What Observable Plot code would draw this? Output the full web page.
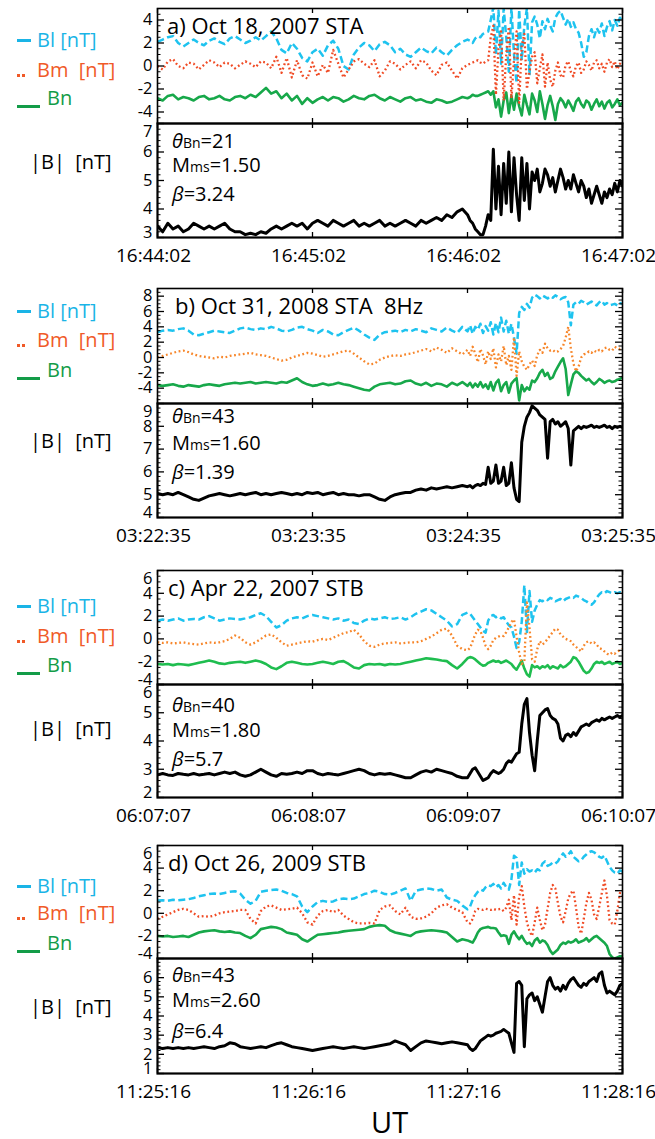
<!DOCTYPE html>
<html>
<head>
<meta charset="utf-8">
<script src="https://cdn.jsdelivr.net/npm/d3@7"></script>
<script src="https://cdn.jsdelivr.net/npm/@observablehq/plot@0.6"></script>
<style>
  html, body { margin: 0; padding: 0; background: #fff; }
  #page { position: relative; width: 655px; height: 1139px; overflow: hidden; background: #fff;
          font-family: "Open Sans", sans-serif; color: #000; }
  .txt { position: absolute; white-space: pre; line-height: 1; transform: translateY(-50%); }
  .bar { position: absolute; }
</style>
</head>
<body>
<div id="page"></div>
<script>
// ---------------------------------------------------------------------------
// Shock crossings: magnetic field in LMN coordinates (Bl, Bm, Bn) and |B|,
// 3-minute windows. Time axis in seconds from the start of each window.
// Samples every 2 s for the first 120 s, then every 1 s.
// ---------------------------------------------------------------------------
const timeGrid = d3.range(0, 120, 2).concat(d3.range(120, 181));

const eventTitles = ["a) Oct 18, 2007 STA", "b) Oct 31, 2008 STA  8Hz", "c) Apr 22, 2007 STB", "d) Oct 26, 2009 STB"];
const xTickSeconds = [0, 60, 120, 180];
const xTickLabels = [
  ["16:44:02", "16:45:02", "16:46:02", "16:47:02"],
  ["03:22:35", "03:23:35", "03:24:35", "03:25:35"],
  ["06:07:07", "06:08:07", "06:09:07", "06:10:07"],
  ["11:25:16", "11:26:16", "11:27:16", "11:28:16"]
];
const thetaBn = ["21", "43", "40", "43"];
const machMs = ["1.50", "1.60", "1.80", "2.60"];
const betaValues = ["3.24", "1.39", "5.7", "6.4"];

const componentDomains = [[-5, 5], [-6, 9], [-4, 6], [-4, 6]];
const componentTicks = [[-4, -2, 0, 2, 4], [-4, -2, 0, 2, 4, 6, 8], [-4, -2, 0, 2, 4, 6], [-4, -2, 0, 2, 4, 6]];
const magnitudeDomains = [[3, 7], [4, 9], [2, 6], [1, 7]];
const magnitudeTicks = [[3, 4, 5, 6, 7], [4, 5, 6, 7, 8, 9], [2, 3, 4, 5, 6], [1, 2, 3, 4, 5, 6]];

// ---- a) Oct 18, 2007 STA ----
const blA = [
  2.1, 2.3, 2.5, 2.6, 2.0, 1.7, 2.0, 2.3, 2.0, 1.8,
  2.2, 2.4, 2.1, 1.9, 2.4, 2.6, 2.3, 2.0, 2.2, 2.5,
  2.2, 2.6, 3.0, 2.4, 1.4, 1.1, 2.0, 1.5, 0.7, 0.4,
  1.2, 1.5, 0.9, 1.8, 2.2, 1.5, 0.0, -0.3, 1.0, 1.6,
  2.0, 1.8, 1.3, 1.9, 2.1, 1.8, 1.2, 1.5, 1.0, 0.8,
  1.2, 1.6, 1.3, 1.1, 1.6, 1.2, 0.9, 1.4, 1.8, 2.1,
  2.3, 2.2, 2.0, 2.4, 2.6, 2.5, 2.8, 2.9, 3.0, 4.0,
  5.1, 1.0, 4.8, 0.2, 5.0, 2.5, -0.5, 5.1, 1.0, -1.5,
  4.9, 0.5, 3.5, 5.0, -0.8, 3.8, 4.3, 3.6, 2.4, 3.9,
  3.2, 4.1, 3.5, 3.0, 4.2, 4.6, 4.8, 4.2, 3.6, 4.1,
  3.4, 3.8, 3.2, 2.9, 2.0, 0.8, 1.2, 2.6, 3.2, 2.5,
  3.3, 2.9, 3.7, 2.6, 3.4, 3.9, 3.1, 4.0, 3.5, 4.2,
  3.8
];
const bmA = [
  0.0, -0.3, 0.4, 0.6, 0.0, -0.2, 0.3, 0.2, -0.3, 0.1,
  0.5, 0.3, -0.1, 0.3, 0.2, -0.2, 0.1, 0.4, 0.2, -0.1,
  0.4, 0.3, -0.2, 0.8, -0.6, 0.7, -1.0, 0.5, -0.8, -1.1,
  0.3, -0.9, 0.1, -0.6, 1.4, 0.2, -1.0, -0.3, 0.4, 0.6,
  0.2, -0.1, 0.5, -0.9, -0.4, 0.4, 0.2, -0.3, 0.1, 0.4,
  -0.2, 0.5, 0.3, -0.4, -0.8, 0.1, 0.3, -0.4, -1.1, -0.2,
  0.1, 0.2, 0.3, 0.4, 0.5, 0.3, 0.2, 0.4, 0.5, 2.5,
  3.5, -2.5, 1.5, 3.0, -3.0, 1.0, 3.4, -2.8, 0.5, 3.0,
  -3.2, 1.8, 2.8, -2.0, -0.5, 0.8, 1.2, -1.5, -0.2, 1.0,
  -1.8, 0.3, -1.2, -1.8, -0.4, 0.3, -0.8, -1.0, 0.1, 0.4,
  -0.5, -0.9, 0.0, 0.3, -0.6, -0.3, 0.4, 0.1, -0.4, 0.3,
  0.5, -0.2, 0.2, -0.5, 0.3, 0.6, -0.1, 0.4, -0.3, 0.2,
  0.0
];
const bnA = [
  -2.8, -3.0, -2.6, -2.5, -2.9, -2.7, -2.8, -3.0, -2.7, -2.6,
  -2.9, -2.8, -2.6, -2.9, -3.0, -2.7, -2.6, -2.8, -2.5, -2.7,
  -2.3, -1.9, -2.4, -2.2, -2.8, -2.4, -3.0, -2.6, -3.3, -2.8,
  -3.2, -2.9, -2.7, -3.0, -2.7, -2.8, -3.1, -2.9, -2.6, -2.8,
  -2.9, -2.6, -2.5, -2.8, -3.0, -2.7, -2.9, -3.1, -2.8, -2.7,
  -3.0, -2.9, -3.1, -3.2, -2.9, -3.0, -3.2, -3.1, -2.9, -2.7,
  -2.8, -2.7, -2.5, -2.6, -2.6, -2.5, -2.4, -2.3, -2.2, -2.5,
  -2.2, -3.6, -2.9, -4.4, -3.0, -2.3, -4.1, -2.6, -3.8, -2.4,
  -3.5, -4.3, -2.5, -3.4, -4.2, -2.4, -3.0, -4.0, -2.2, -3.3,
  -4.6, -3.4, -2.6, -3.5, -4.7, -3.3, -2.8, -3.1, -3.6, -3.0,
  -3.4, -3.9, -3.1, -2.8, -3.3, -3.6, -3.0, -3.2, -3.8, -3.3,
  -2.9, -3.5, -3.1, -3.7, -3.2, -3.0, -3.6, -3.3, -2.9, -3.4,
  -3.2
];
const bA = [
  3.4, 3.2, 3.5, 3.3, 3.4, 3.2, 3.3, 3.5, 3.4, 3.3,
  3.4, 3.3, 3.4, 3.5, 3.3, 3.2, 3.2, 3.1, 3.15, 3.1,
  3.2, 3.15, 3.3, 3.4, 3.3, 3.4, 3.5, 3.4, 3.5, 3.3,
  3.5, 3.6, 3.5, 3.4, 3.6, 3.5, 3.4, 3.5, 3.6, 3.4,
  3.5, 3.4, 3.5, 3.6, 3.4, 3.5, 3.4, 3.5, 3.6, 3.5,
  3.4, 3.6, 3.5, 3.6, 3.7, 3.6, 3.8, 3.7, 3.9, 4.0,
  3.8, 3.6, 3.5, 3.3, 3.2, 3.1, 3.1, 3.4, 3.8, 3.6,
  6.1, 4.0, 5.5, 3.8, 5.6, 4.2, 6.0, 3.9, 5.8, 4.5,
  3.6, 5.8, 4.3, 5.6, 4.0, 5.3, 5.0, 5.4, 4.6, 4.9,
  5.4, 5.2, 4.8, 5.1, 4.6, 5.0, 5.4, 5.1, 4.7, 5.0,
  4.7, 5.2, 4.9, 4.6, 5.0, 4.8, 4.4, 4.7, 4.2, 4.5,
  4.8, 4.5, 4.2, 4.6, 4.4, 4.7, 4.5, 4.9, 4.6, 5.0,
  4.8
];

// ---- b) Oct 31, 2008 STA 8Hz ----
const blB = [
  3.3, 3.5, 3.6, 3.5, 3.7, 3.8, 3.5, 3.0, 2.9, 3.1,
  3.3, 3.5, 3.4, 3.3, 3.2, 3.5, 3.8, 3.9, 3.7, 3.6,
  3.8, 3.7, 4.0, 3.8, 3.5, 3.4, 3.6, 3.9, 4.0, 3.7,
  3.5, 3.2, 3.6, 3.4, 3.0, 2.9, 3.3, 3.6, 3.9, 3.5,
  3.0, 2.6, 2.3, 3.0, 3.3, 3.4, 3.5, 3.3, 3.6, 3.4,
  3.7, 3.5, 3.3, 3.8, 3.6, 3.4, 3.9, 3.5, 3.2, 4.0,
  3.4, 4.2, 3.1, 4.0, 3.6, 4.4, 3.2, 4.1, 3.5, 4.6,
  3.0, 4.5, 3.3, 5.2, 3.4, 4.8, 3.1, 4.4, 2.6, 0.5,
  5.8, 6.6, 6.2, 7.0, 6.5, 7.8, 8.2, 8.0, 7.7, 8.1,
  7.9, 7.7, 8.0, 7.8, 8.1, 7.9, 7.6, 7.8, 7.9, 7.2,
  4.2, 6.9, 7.2, 7.0, 7.4, 7.2, 6.9, 7.1, 7.3, 7.0,
  6.8, 7.2, 7.4, 6.9, 7.1, 6.8, 6.9, 7.0, 6.8, 7.1,
  7.0
];
const bmB = [
  0.0, 0.2, 0.4, 0.6, 0.8, 0.9, 0.7, 0.4, 0.2, 0.1,
  0.0, -0.1, 0.1, 0.0, 0.2, 0.3, 0.4, 0.5, 0.6, 0.4,
  0.3, 0.2, 0.0, -0.2, -0.4, -0.3, 0.0, 0.2, 0.4, 0.6,
  0.5, 0.3, 0.1, 0.2, 0.4, 0.6, 0.8, 0.9, 0.5, 0.0,
  -0.5, -0.9, -0.8, -0.3, 0.0, 0.2, 0.3, 0.2, 0.4, 0.5,
  0.7, 0.9, 1.1, 0.8, 1.3, 1.0, 0.6, 1.2, 0.8, 0.4,
  1.0, 0.2, 1.4, 0.5, -0.6, 1.1, 0.3, -0.9, 0.8, -0.2,
  1.2, -1.3, 0.4, -0.5, 1.5, -1.0, 0.2, -1.6, 2.6, -2.4,
  0.8, -0.5, -1.2, -1.6, -0.9, -0.4, -1.1, 0.3, 1.0, 0.6,
  1.8, 1.2, 0.9, 1.0, 0.7, 0.8, 1.1, 1.5, 2.6, 4.0,
  1.2, -0.8, -1.8, -1.2, 0.0, 0.4, 0.5, 0.8, 0.6, 0.9,
  0.7, 1.0, 0.8, 1.2, 1.3, 1.0, 0.9, 1.4, 1.2, 1.1,
  1.3
];
const bnB = [
  -3.6, -3.7, -3.6, -3.5, -3.7, -3.8, -3.6, -3.7, -3.8, -3.6,
  -3.5, -3.6, -3.7, -3.5, -3.4, -3.3, -3.4, -3.3, -3.2, -3.4,
  -3.3, -3.2, -3.3, -3.4, -3.2, -3.3, -3.0, -2.7, -3.2, -3.5,
  -3.7, -3.6, -3.4, -3.6, -3.5, -3.3, -3.5, -3.6, -3.8, -4.0,
  -4.2, -4.3, -3.8, -3.5, -3.4, -3.3, -3.5, -3.4, -3.1, -3.0,
  -3.4, -3.6, -3.3, -3.7, -3.4, -3.5, -3.8, -3.3, -3.6, -3.2,
  -3.7, -3.3, -3.9, -3.4, -3.8, -3.2, -3.9, -3.5, -4.1, -3.2,
  -4.3, -3.3, -2.9, -4.4, -3.6, -3.2, -4.6, -3.4, -3.0, -2.7,
  -5.6, -3.6, -4.4, -3.9, -4.2, -3.0, -3.2, -2.7, -2.0, -1.6,
  -2.4, -2.0, -2.8, -2.6, -1.8, -1.2, -0.6, -0.1, -1.5, -4.9,
  -3.5, -2.2, -1.8, -2.0, -2.4, -2.7, -3.0, -2.8, -3.2, -3.5,
  -3.2, -2.8, -3.0, -3.3, -3.1, -3.0, -3.2, -3.1, -2.9, -2.8,
  -2.6
];
const bB = [
  5.05, 5.0, 5.05, 5.0, 5.1, 5.0, 4.9, 4.8, 4.75, 4.85,
  4.95, 5.0, 5.05, 5.0, 4.95, 5.0, 5.05, 5.0, 5.05, 5.1,
  5.0, 5.05, 5.0, 5.05, 5.1, 5.05, 5.0, 5.05, 5.0, 5.1,
  5.05, 5.1, 5.0, 5.05, 5.1, 5.0, 5.05, 5.0, 5.0, 4.95,
  5.0, 5.0, 4.9, 4.8, 4.75, 4.9, 5.0, 5.05, 5.1, 5.1,
  5.2, 5.25, 5.2, 5.3, 5.25, 5.3, 5.35, 5.3, 5.35, 5.4,
  5.35, 5.4, 5.3, 5.4, 5.45, 5.4, 5.5, 5.45, 6.2, 5.5,
  5.6, 6.3, 5.5, 5.6, 6.2, 5.4, 5.5, 6.4, 5.3, 4.8,
  4.7, 7.3, 8.0, 8.4, 8.6, 8.9, 8.8, 8.7, 8.5, 8.4,
  8.3, 6.6, 8.2, 8.3, 8.1, 8.2, 8.0, 8.1, 8.2, 7.9,
  6.3, 7.8, 7.9, 8.0, 7.9, 8.0, 7.95, 8.0, 8.05, 7.95,
  8.0, 7.95, 8.0, 8.05, 7.95, 8.0, 7.9, 8.0, 7.95, 8.0,
  7.95
];

// ---- c) Apr 22, 2007 STB ----
const blC = [
  1.6, 1.7, 1.6, 1.7, 1.8, 1.6, 1.7, 1.75, 1.7, 1.9,
  2.0, 1.8, 1.6, 1.7, 1.8, 1.75, 1.7, 1.8, 1.9, 2.1,
  2.25, 2.0, 1.5, 1.0, 1.2, 1.6, 1.8, 1.9, 1.8, 2.0,
  2.1, 2.0, 1.9, 1.8, 1.7, 1.8, 1.6, 1.7, 1.4, 1.3,
  1.6, 1.8, 1.7, 1.8, 1.9, 1.75, 1.8, 1.9, 1.7, 1.9,
  2.2, 2.4, 2.6, 2.5, 2.2, 1.9, 1.6, 1.1, 1.3, 2.1,
  2.3, 2.2, 1.9, 1.6, 1.3, 1.0, 0.7, 0.55, 1.6, 2.0,
  2.1, 1.9, 2.0, 1.8, 1.9, 1.5, 1.2, 1.0, 0.2, -0.8,
  -0.3, 1.5, 4.7, 0.6, 4.2, 1.5, 2.5, 3.0, 3.4, 3.3,
  3.5, 3.4, 3.6, 3.5, 3.3, 3.4, 3.5, 3.3, 3.5, 3.6,
  3.7, 3.6, 3.8, 3.7, 3.6, 3.4, 3.3, 3.1, 3.0, 3.2,
  3.6, 3.9, 4.1, 4.0, 4.2, 4.1, 4.0, 4.1, 4.0, 4.1,
  4.0
];
const bmC = [
  -0.3, -0.35, -0.3, -0.4, -0.35, -0.3, -0.4, -0.45, -0.5, -0.4,
  -0.3, -0.35, -0.3, -0.2, 0.0, 0.3, 0.1, -0.3, -0.5, -0.3,
  0.0, 0.3, 0.4, 0.1, -0.3, -0.6, -0.5, -0.4, -0.3, -0.2,
  -0.25, -0.1, 0.0, -0.1, 0.1, 0.3, 0.5, 0.6, 0.8, 0.4,
  -0.2, -0.6, -0.7, -0.5, -0.4, -0.35, -0.3, -0.4, -0.35, -0.3,
  -0.3, -0.2, 0.0, 0.2, 0.5, 0.8, 0.9, 0.3, -0.6, -0.9,
  -1.0, -0.8, -0.2, 0.4, 0.8, 0.7, 0.1, -0.6, -0.9, -0.6,
  -0.1, 0.1, 0.2, 0.3, 0.25, 0.6, 1.0, 1.5, 1.7, 0.2,
  -1.2, -2.2, -2.0, 3.2, 1.0, -1.8, -2.0, -0.9, -0.2, -0.5,
  -0.3, 0.0, 0.3, 0.6, 0.9, 0.8, 0.4, 0.2, 0.0, -0.1,
  -0.2, -0.5, -0.7, -0.9, -1.1, -0.6, -0.3, -0.2, -0.4, -0.3,
  -0.5, -0.8, -0.9, -1.1, -1.3, -1.4, -1.2, -1.3, -1.1, -1.0,
  -0.9
];
const bnC = [
  -2.2, -2.25, -2.2, -2.3, -2.2, -2.25, -2.3, -2.2, -2.1, -2.0,
  -1.9, -2.0, -2.15, -2.2, -2.1, -2.05, -2.0, -2.1, -2.0, -1.9,
  -2.0, -2.2, -2.5, -2.65, -2.4, -2.1, -2.0, -2.1, -2.2, -2.25,
  -2.2, -2.1, -2.0, -2.1, -2.2, -2.0, -1.95, -2.2, -2.5, -2.6,
  -2.3, -2.2, -2.25, -2.2, -2.3, -2.2, -2.25, -2.2, -2.1, -2.0,
  -1.9, -1.8, -1.7, -1.75, -1.8, -1.9, -1.95, -2.3, -2.6, -2.2,
  -1.7, -1.6, -1.65, -1.8, -2.0, -2.2, -2.35, -2.3, -2.1, -2.0,
  -1.9, -2.0, -1.95, -2.1, -2.0, -1.9, -2.05, -2.2, -2.5, -2.7,
  -2.3, -1.9, -2.6, -3.1, -3.3, -2.3, -2.5, -2.4, -2.6, -2.4,
  -2.5, -2.3, -2.6, -2.4, -2.5, -2.6, -2.3, -2.5, -2.4, -2.2,
  -2.0, -1.6, -1.7, -2.0, -2.4, -2.8, -3.0, -2.9, -2.6, -2.2,
  -2.0, -2.1, -2.0, -2.2, -2.1, -2.0, -2.2, -2.1, -2.0, -2.2,
  -2.1
];
const bC = [
  2.8, 2.85, 2.8, 2.78, 2.85, 2.82, 2.8, 2.85, 2.8, 2.82,
  2.85, 2.8, 2.85, 2.9, 2.85, 2.9, 2.8, 2.75, 2.8, 2.9,
  3.0, 2.9, 2.8, 2.75, 2.85, 2.82, 2.85, 2.9, 2.85, 2.95,
  2.95, 2.85, 2.8, 2.85, 2.82, 2.8, 2.85, 2.9, 2.95, 3.0,
  2.95, 2.85, 2.8, 2.85, 2.82, 2.85, 2.8, 2.75, 2.7, 2.7,
  2.8, 2.9, 2.95, 2.9, 3.0, 2.95, 2.9, 2.85, 2.75, 2.7,
  2.7, 2.85, 3.0, 3.05, 2.9, 2.75, 2.6, 2.65, 2.7, 2.85,
  2.95, 2.9, 2.85, 2.9, 3.0, 3.2, 3.3, 3.25, 3.4, 3.55,
  3.6, 4.6, 5.3, 5.5, 4.3, 3.5, 2.95, 4.0, 4.9, 5.0,
  5.1, 5.15, 4.9, 4.8, 4.75, 4.6, 4.1, 4.0, 4.2, 4.25,
  4.15, 4.3, 4.2, 4.35, 4.5, 4.55, 4.6, 4.55, 4.65, 4.7,
  4.75, 4.7, 4.8, 4.75, 4.8, 4.85, 4.8, 4.85, 4.9, 4.85,
  4.9
];

// ---- d) Oct 26, 2009 STB ----
const blD = [
  1.13, 1.15, 1.1, 1.2, 1.15, 1.2, 1.25, 1.35, 1.5, 1.6,
  1.7, 1.75, 1.7, 1.8, 1.9, 1.95, 1.75, 1.2, 0.85, 1.1,
  1.9, 2.0, 2.05, 2.1, 2.0, 1.8, 1.7, 1.5, 0.6, 0.1,
  0.6, 1.0, 1.1, 1.0, 1.05, 1.25, 1.3, 1.25, 1.3, 1.5,
  1.7, 1.8, 2.0, 1.9, 1.7, 1.65, 1.8, 2.0, 2.2, 1.1,
  2.0, 2.1, 2.2, 2.15, 2.0, 2.1, 1.4, 1.2, 1.1, 0.7,
  0.35, 0.6, 1.2, 1.6, 1.9, 2.1, 2.0, 2.3, 2.5, 2.4,
  2.6, 2.3, 2.5, 2.2, 2.7, 2.3, 2.1, 3.0, 5.1, 4.9,
  2.5, 4.5, 3.5, 3.9, 3.7, 3.8, 3.6, 3.9, 3.8, 4.4,
  4.6, 4.2, 4.3, 4.5, 4.4, 4.6, 5.0, 5.3, 5.0, 5.2,
  5.5, 5.0, 4.8, 4.6, 4.7, 5.0, 5.2, 5.4, 5.5, 5.4,
  5.2, 5.0, 4.9, 5.1, 4.6, 4.1, 3.8, 3.6, 3.5, 3.8,
  3.7
];
const bmD = [
  -0.5, -0.3, -0.1, 0.1, 0.3, 0.4, 0.3, 0.0, -0.3, -0.25,
  -0.3, -0.2, 0.0, 0.1, 0.15, 0.2, 0.3, 0.3, -0.5, -0.9,
  0.2, 0.6, 0.7, 0.5, 0.3, 0.35, 0.4, 0.5, 0.0, -0.8,
  -1.0, -0.2, 0.2, 0.3, 0.1, 0.3, -0.2, -0.5, -0.8, -0.9,
  -0.9, -0.85, -0.9, 0.3, 0.6, 0.7, 0.2, -0.1, 0.5, -0.3,
  -0.5, -0.45, -0.3, 0.0, 0.5, 0.7, 0.8, 0.5, 0.3, 0.1,
  -0.8, -0.9, -0.5, 0.2, 0.4, 0.35, 0.3, 0.4, 0.35, 0.3,
  0.4, 0.3, 0.35, 0.4, 0.2, 0.5, 1.2, -0.6, 1.6, -1.0,
  1.5, 2.4, 0.6, -0.8, -1.6, -2.0, -0.8, 0.5, -0.6, -1.5,
  -1.0, 0.4, 1.8, 2.5, 2.2, 0.9, -0.3, -0.8, 0.2, 1.3,
  1.8, 2.0, 0.5, -1.2, -1.8, -0.5, 0.9, 1.8, 1.2, -0.1,
  -0.5, 0.6, 1.8, 2.9, 1.5, -0.6, -0.9, -1.0, 0.2, 1.8,
  1.5
];
const bnD = [
  -2.0, -2.05, -2.0, -2.1, -2.05, -2.0, -2.1, -1.9, -1.7, -1.6,
  -1.55, -1.5, -1.6, -1.65, -1.6, -1.7, -1.75, -2.0, -2.2, -1.9,
  -1.4, -1.3, -1.2, -1.25, -1.4, -1.7, -1.8, -1.9, -2.3, -2.5,
  -2.2, -1.9, -1.85, -1.8, -1.75, -1.7, -1.6, -1.55, -1.5, -1.45,
  -1.4, -1.2, -1.1, -1.05, -1.1, -1.5, -1.7, -1.8, -1.9, -2.0,
  -1.7, -1.6, -1.55, -1.5, -1.55, -1.6, -1.7, -2.1, -2.5, -2.3,
  -2.4, -2.5, -2.6, -2.2, -1.7, -1.4, -1.3, -1.25, -1.2, -1.3,
  -1.3, -1.35, -1.7, -2.0, -1.95, -2.0, -2.7, -1.9, -1.6, -2.0,
  -2.3, -2.0, -2.4, -2.7, -2.6, -2.9, -2.4, -2.2, -2.6, -2.4,
  -2.5, -2.8, -3.3, -3.6, -3.4, -3.2, -2.8, -2.6, -2.7, -2.5,
  -2.6, -2.5, -2.3, -2.6, -2.5, -2.4, -2.2, -2.5, -2.3, -2.1,
  -2.0, -2.2, -2.4, -2.6, -2.9, -3.6, -3.9, -4.0, -3.9, -3.8,
  -3.8
];
const bD = [
  2.35, 2.3, 2.35, 2.3, 2.35, 2.3, 2.35, 2.3, 2.35, 2.4,
  2.35, 2.3, 2.4, 2.45, 2.6, 2.55, 2.4, 2.35, 2.3, 2.35,
  2.4, 2.35, 2.45, 2.55, 2.6, 2.5, 2.4, 2.35, 2.3, 2.25,
  2.2, 2.25, 2.3, 2.35, 2.4, 2.35, 2.3, 2.35, 2.4, 2.35,
  2.3, 2.35, 2.4, 2.45, 2.5, 2.55, 2.7, 2.6, 2.5, 2.2,
  2.4, 2.6, 2.7, 2.65, 2.6, 2.55, 2.6, 2.65, 2.6, 2.55,
  2.5, 2.3, 2.2, 2.3, 2.5, 2.7, 2.8, 2.9, 3.0, 2.95,
  3.0, 3.1, 3.15, 3.2, 3.3, 3.2, 3.1, 2.6, 2.1, 5.7,
  5.8, 5.6, 2.4, 4.9, 5.1, 5.2, 4.8, 5.0, 4.6, 4.2,
  5.0, 5.8, 6.0, 5.6, 5.4, 5.5, 5.3, 5.6, 5.4, 5.7,
  5.9, 6.0, 5.8, 5.6, 5.5, 5.7, 5.6, 5.8, 5.9, 6.0,
  5.8, 6.2, 6.3, 5.6, 5.2, 5.3, 5.2, 5.1, 5.3, 5.6,
  5.7
];

const blSeries = [blA, blB, blC, blD];
const bmSeries = [bmA, bmB, bmC, bmD];
const bnSeries = [bnA, bnB, bnC, bnD];
const magSeries = [bA, bB, bC, bD];

// ---------------------------------------------------------------------------
// Styling and page layout
// ---------------------------------------------------------------------------
const blColor = "#1ec3ef";
const bmColors = ["#f04a24", "#f7862a", "#f7862a", "#f04a24"];
const bnColors = ["#17a84a", "#17a84a", "#1fbd4f", "#17a84a"];
const blText = "#1ab4e6", bmText = "#f05a28", bnText = "#139c48";

const frameLeft = 157, frameRight = 622, pageWidth = 655;
const frameWidth = frameRight - frameLeft;
const panelTop = [8, 288, 570, 845];      // top of component panel
const panelMid = [123, 403, 684, 958];    // boundary between the two panels
const panelBottom = [237, 517, 797, 1073];
const legendRows = [[40, 70, 98, 162], [311, 340, 370, 441], [606, 636, 665, 729], [886, 913, 943, 1007]];
const titleLeft = [167, 175, 168, 168];
const paramRows = [[141, 165, 194], [416, 443, 472], [705, 730, 759], [975, 1000, 1031]];

const page = document.getElementById("page");

function minorTicks(domain, step, major) {
  const out = [];
  for (let v = Math.ceil(domain[0] / step - 1e-9) * step; v <= domain[1] + 1e-9; v += step) {
    const r = Math.round(v * 100) / 100;
    if (!major.some(m => Math.abs(m - r) < 1e-6)) out.push(r);
  }
  return out;
}

// Inward-pointing ticks on all four sides of a panel
function frameTicks(major, minor, panelHeight) {
  const big = 7, small = 3.5, xLen = 5;
  return [
    Plot.tickY(major, {y: d => d, insetRight: frameWidth - big, strokeWidth: 1.3}),
    Plot.tickY(major, {y: d => d, insetLeft: frameWidth - big, strokeWidth: 1.3}),
    Plot.tickY(minor, {y: d => d, insetRight: frameWidth - small, strokeWidth: 1}),
    Plot.tickY(minor, {y: d => d, insetLeft: frameWidth - small, strokeWidth: 1}),
    Plot.tickX(xTickSeconds, {x: d => d, insetBottom: panelHeight - xLen, strokeWidth: 1.3}),
    Plot.tickX(xTickSeconds, {x: d => d, insetTop: panelHeight - xLen, strokeWidth: 1.3})
  ];
}

// y tick labels; the labels at the ends of the range are pushed inside the panel
function yLabels(ticks, domain) {
  const [lo, hi] = domain;
  const base = {y: d => d, text: d => String(d), frameAnchor: "left", textAnchor: "end", dx: -5, fontSize: 16.5};
  return [
    Plot.text(ticks.filter(v => v > lo && v < hi), base),
    Plot.text(ticks.filter(v => v >= hi), {...base, dy: 8}),
    Plot.text(ticks.filter(v => v <= lo), {...base, dy: -5})
  ];
}

function placeSvg(svg, top) {
  const holder = document.createElement("div");
  holder.style.position = "absolute";
  holder.style.left = "0px";
  holder.style.top = top + "px";
  holder.appendChild(svg);
  page.appendChild(holder);
}

function addText(html, left, centerY, size, color, extraStyle = "") {
  const el = document.createElement("div");
  el.className = "txt";
  el.style.cssText = `left:${left}px;top:${centerY}px;font-size:${size}px;color:${color};${extraStyle}`;
  el.innerHTML = html;
  page.appendChild(el);
}

function addBar(left, top, width, height, color) {
  const el = document.createElement("div");
  el.className = "bar";
  el.style.cssText = `left:${left}px;top:${top}px;width:${width}px;height:${height}px;background:${color};`;
  page.appendChild(el);
}

const svgStyle = {overflow: "visible", background: "transparent", fontFamily: "'Open Sans', sans-serif", color: "#000"};

for (let i = 0; i < 4; i++) {
  const rows = timeGrid.map((t, k) => ({t, bl: blSeries[i][k], bm: bmSeries[i][k], bn: bnSeries[i][k], b: magSeries[i][k]}));

  // Field components
  const cDom = componentDomains[i];
  const topHeight = panelMid[i] - panelTop[i];
  const top = Plot.plot({
    width: pageWidth, height: topHeight,
    marginLeft: frameLeft, marginRight: pageWidth - frameRight, marginTop: 0, marginBottom: 0,
    style: svgStyle,
    x: {domain: [0, 180], axis: null},
    y: {domain: cDom, axis: null},
    marks: [
      Plot.line(rows, {x: "t", y: "bl", stroke: blColor, strokeWidth: 2.5, strokeDasharray: "7,3.5", strokeLinecap: "butt", clip: true}),
      Plot.line(rows, {x: "t", y: "bn", stroke: bnColors[i], strokeWidth: 2.6, clip: true}),
      Plot.line(rows, {x: "t", y: "bm", stroke: bmColors[i], strokeWidth: 2.3, strokeDasharray: "1.8,2.6", strokeLinecap: "butt", clip: true}),
      ...frameTicks(componentTicks[i], minorTicks(cDom, 0.5, componentTicks[i]), topHeight),
      ...yLabels(componentTicks[i], cDom),
      Plot.frame({stroke: "#000", strokeWidth: 1.6})
    ]
  });
  placeSvg(top, panelTop[i]);

  // Field magnitude
  const mDom = magnitudeDomains[i];
  const bottomHeight = panelBottom[i] - panelMid[i];
  const bottom = Plot.plot({
    width: pageWidth, height: bottomHeight + 32,
    marginLeft: frameLeft, marginRight: pageWidth - frameRight, marginTop: 0, marginBottom: 32,
    style: svgStyle,
    x: {domain: [0, 180], axis: null},
    y: {domain: mDom, axis: null},
    marks: [
      Plot.line(rows, {x: "t", y: "b", stroke: "#000", strokeWidth: 3, clip: true}),
      ...frameTicks(magnitudeTicks[i], minorTicks(mDom, 0.2, magnitudeTicks[i]), bottomHeight),
      ...yLabels(magnitudeTicks[i], mDom),
      Plot.text(xTickSeconds, {x: d => d, text: (d, k) => xTickLabels[i][k], frameAnchor: "bottom", lineAnchor: "top", dy: 11, dx: -4, fontSize: 19}),
      Plot.frame({stroke: "#000", strokeWidth: 2.2})
    ]
  });
  placeSvg(bottom, panelMid[i]);

  // Panel title and shock parameters
  addText(eventTitles[i], titleLeft[i], panelTop[i] + 17, 22, "#000");
  const [p1, p2, p3] = paramRows[i];
  addText(`<i>θ</i><span style="font-size:14px">Bn</span>=${thetaBn[i]}`, 172, p1, 20, "#000");
  addText(`M<span style="font-size:14px">ms</span>=${machMs[i]}`, 172, p2, 20, "#000");
  addText(`<i>β</i>=${betaValues[i]}`, 172, p3, 20, "#000");

  // Legend column
  const [yl, ym, yn, yb] = legendRows[i];
  addBar(17, yl - 1, 14, 3, blText);
  addText("Bl [nT]", 37, yl, 20, blText);
  addBar(17, ym + 4, 3, 3, bmText);
  addBar(22, ym + 4, 3, 3, bmText);
  addText("Bm  [nT]", 37, ym, 20, bmText);
  addBar(17, yn + 7, 23, 2.5, bnText);
  addText("Bn", 47, yn, 20, bnText);
  addText("|B|  [nT]", 30, yb, 20, "#000");
}

addText("UT", 371, 1121, 29, "#000");
</script>
</body>
</html>
